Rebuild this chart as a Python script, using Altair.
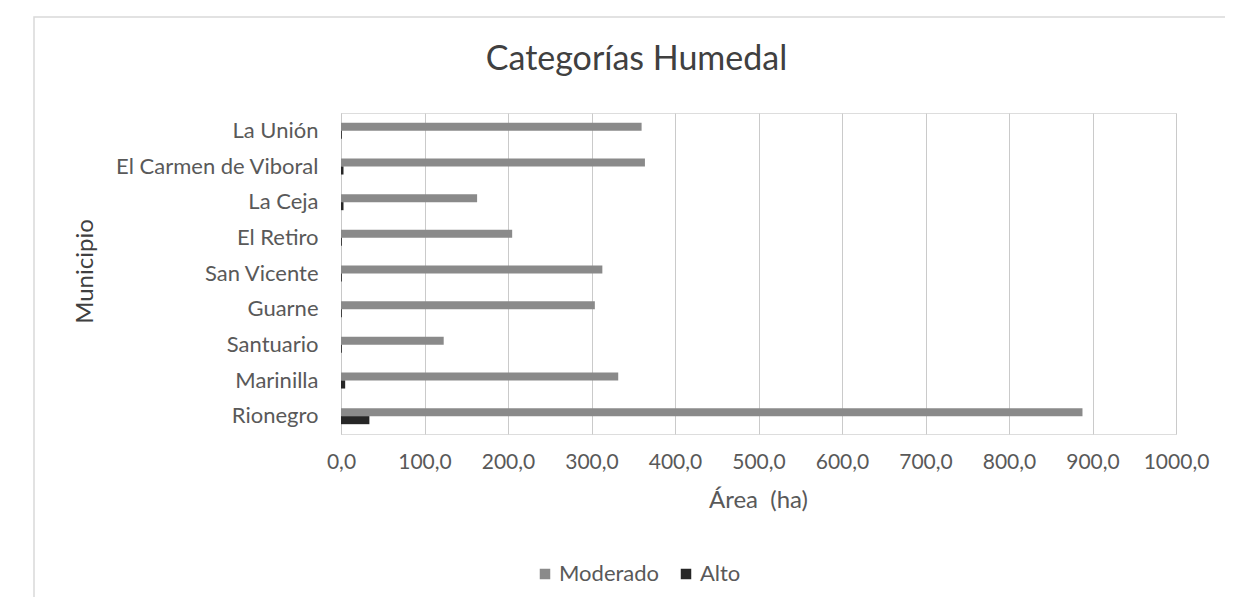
import altair as alt
import pandas as pd

municipios = ["La Unión\u00a0", "El Carmen de Viboral", "La Ceja\u00a0", "El Retiro", "San Vicente\u00a0",
              "Guarne", "Santuario", "Marinilla", "Rionegro"]
moderado = [360, 364, 163, 205, 313, 304, 123, 332, 888]
alto = [1, 3, 3, 1, 1, 1, 1, 5, 34]
series = ["Moderado", "Alto"]
colors = ["#8a8a8a", "#262626"]
x_ticks = [0, 100, 200, 300, 400, 500, 600, 700, 800, 900, 1000]

rows = []
for m, vm, va in zip(municipios, moderado, alto):
    rows.append({"Municipio": m, "Serie": "Moderado", "Area": vm})
    rows.append({"Municipio": m, "Serie": "Alto", "Area": va})
df = pd.DataFrame(rows)

FONT = "Lato"
TXT = "#595959"

W, H = 835, 321
PL, PT = 333, 105
PR = 1217 - PL - W
PB = 589 - PT - H

bars = alt.Chart(df).mark_bar().encode(
    y=alt.Y("Municipio:N", sort=municipios,
            scale=alt.Scale(paddingInner=0.55, paddingOuter=0.275),
            axis=alt.Axis(title="Municipio", labelFont=FONT, labelFontSize=22, labelColor=TXT,
                          labelPadding=23, labelLimit=320, ticks=False, domain=True,
                          domainColor="#c8c8c8",
                          titleFont=FONT, titleFontSize=24, titleColor="#404040",
                          titleFontWeight="normal",
                          titleX=-256, titleY=158, titleAngle=270, titleAlign="center",
                          titleBaseline="middle")),
    yOffset=alt.YOffset("Serie:N", sort=series, scale=alt.Scale(domain=series)),
    x=alt.X("Area:Q", scale=alt.Scale(domain=[0, 1000], nice=False),
            axis=alt.Axis(values=x_ticks, title="Área \u00a0(ha)",
                          labelExpr="replace(format(datum.value, '.1f'), '.', ',')",
                          labelFont=FONT, labelFontSize=21, labelColor=TXT, labelPadding=17,
                          labelOverlap=False, labelFlush=False,
                          ticks=False, domain=False, grid=True, gridColor="#cacaca",
                          titleFont=FONT, titleFontSize=24, titleColor=TXT, titleFontWeight="normal",
                          titleX=417, titleY=66, titleAlign="center", titleBaseline="middle")),
    color=alt.Color("Serie:N", sort=series,
                    scale=alt.Scale(domain=series, range=colors),
                    legend=alt.Legend(title=None, orient="none", direction="horizontal",
                                      legendX=193, legendY=450, symbolType="square",
                                      symbolSize=110, symbolStrokeWidth=0, labelFont=FONT,
                                      labelFontSize=22, labelColor=TXT, columnPadding=15,
                                      labelOffset=3)),
)

frame = alt.Chart(pd.DataFrame({"a": [0]})).mark_rect(
    fill=None, stroke="#d9d9d9", strokeWidth=1.5
).encode(x=alt.value(-307), x2=alt.value(900), y=alt.value(-96), y2=alt.value(520))

chart = alt.layer(frame, bars).properties(
    width=W, height=H,
    title=alt.TitleParams("Categorías Humedal", font=FONT, fontSize=34, color="#404040",
                          fontWeight="normal", anchor="middle", frame="group", dx=-122,
                          offset=-88, baseline="alphabetic"),
    autosize=alt.AutoSizeParams(type="none"),
    padding={"left": PL, "top": PT, "right": PR, "bottom": PB},
).configure_view(stroke=None).configure(background="white")

chart.save("out.html", embed_options={"renderer": "svg", "actions": False})
